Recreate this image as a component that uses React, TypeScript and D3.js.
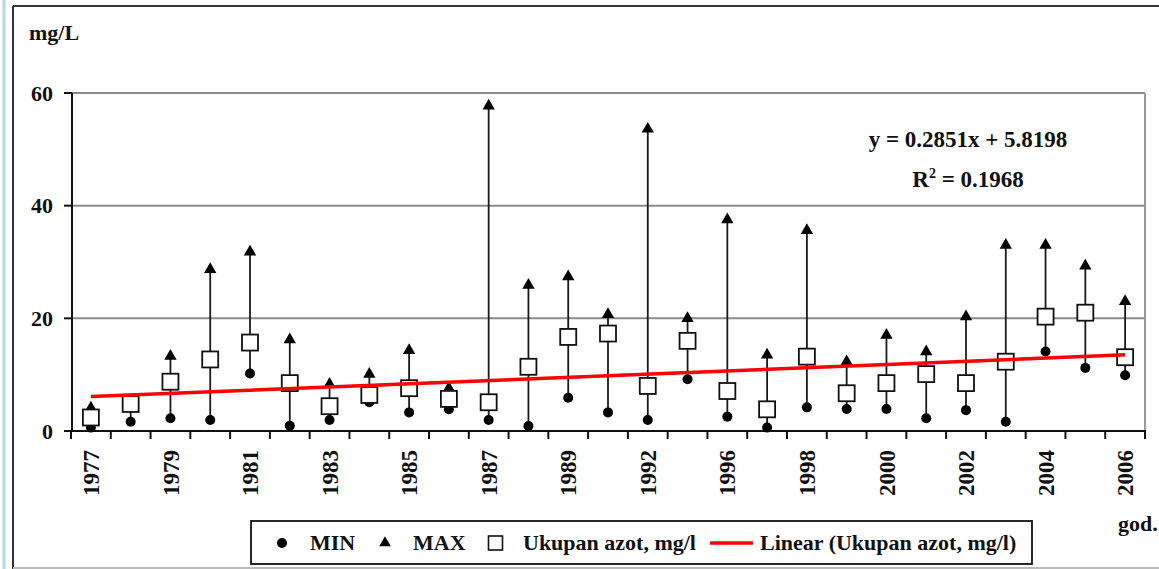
import React from 'react';
import * as d3 from 'd3';

// years on the category axis (only every other one is labelled)
const years = [
  '1977', '1978', '1979', '1980', '1981', '1982', '1983', '1984', '1985',
  '1986', '1987', '1988', '1989', '1990', '1992', '1994', '1996', '1997',
  '1998', '1999', '2000', '2001', '2002', '2003', '2004', '2005', '2006',
];

const minValues = [
  0.6, 1.65, 2.25, 1.95, 10.2, 0.95, 1.95, 5.1, 3.3,
  3.85, 1.95, 0.9, 5.9, 3.3, 1.95, 9.2, 2.55, 0.6,
  4.2, 3.9, 3.9, 2.25, 3.7, 1.65, 14.1, 11.2, 9.9,
];

const maxValues = [
  4.1, 5.0, 13.3, 28.7, 31.8, 16.2, 8.3, 10.1, 14.3,
  7.6, 57.7, 25.9, 27.4, 20.7, 53.6, 20.0, 37.5, 13.5,
  35.6, 12.3, 17.0, 14.1, 20.3, 33.0, 33.0, 29.3, 23.0,
];

const totalNitrogen = [
  2.4, 4.8, 8.75, 12.7, 15.7, 8.5, 4.4, 6.4, 7.6,
  5.7, 5.1, 11.4, 16.7, 17.3, 8.0, 16.0, 7.1, 3.85,
  13.2, 6.7, 8.5, 10.1, 8.5, 12.3, 20.3, 21.0, 13.1,
];

const yTicks = [0, 20, 40, 60];
const trendSlope = 0.2851;
const trendIntercept = 5.8198;

const FONT = '"Liberation Serif", "Times New Roman", serif';

const W = 1159;
const H = 569;

const App: React.FC = () => {
  const x = d3.scaleBand<string>().domain(years).range([71, 1145]);
  const y = d3.scaleLinear().domain([0, 60]).range([431, 93]);
  const cx = (yr: string) => (x(yr) || 0) + x.bandwidth() / 2;

  const tri = d3.symbol(d3.symbolTriangle, 66)() || '';
  const triSmall = d3.symbol(d3.symbolTriangle, 58)() || '';

  // Excel linear trend: x runs 1..n over the categories
  const trendPath = d3
    .line<number>()
    .x(i => cx(years[i]))
    .y(i => y(trendSlope * (i + 1) + trendIntercept))([0, years.length - 1]);

  const boundaries = d3.range(years.length + 1).map(i => 71 + i * x.bandwidth());

  return (
    <svg
      width={W}
      height={H}
      style={{ position: 'absolute', left: 0, top: 0, background: '#fff' }}
      fontFamily={FONT}
      fontWeight="bold"
    >
      {/* page edges */}
      <line x1={4} x2={4} y1={0} y2={H} stroke="#b7d7e3" strokeWidth={3} />
      <line x1={13} x2={13} y1={6} y2={H} stroke="#333" strokeWidth={2} />
      <line x1={13} x2={W} y1={6} y2={6} stroke="#333" strokeWidth={2} />
      <line x1={13} x2={W} y1={568} y2={568} stroke="#bbb" strokeWidth={2} />

      {/* gridlines */}
      {yTicks.filter(t => t > 0).map(t => (
        <line key={t} x1={72} x2={1145} y1={y(t)} y2={y(t)} stroke="#8a8a8a" strokeWidth={2} />
      ))}
      <line x1={1145} x2={1145} y1={y(60)} y2={y(0)} stroke="#9a9a9a" strokeWidth={2} />

      {/* y axis */}
      <line x1={72} x2={72} y1={y(60)} y2={y(0)} stroke="#111" strokeWidth={2} />
      {yTicks.map(t => (
        <g key={t}>
          <line x1={64} x2={72} y1={y(t)} y2={y(t)} stroke="#111" strokeWidth={2} />
          <text x={53} y={y(t)} dy="0.35em" textAnchor="end" fontSize={22} fill="#111">
            {t}
          </text>
        </g>
      ))}
      <text x={29} y={40} fontSize={22} fill="#111">mg/L</text>

      {/* x axis */}
      <line x1={64} x2={1146} y1={y(0)} y2={y(0)} stroke="#111" strokeWidth={2} />
      {boundaries.map((bx, i) => (
        <line key={i} x1={bx} x2={bx} y1={y(0)} y2={y(0) + 8} stroke="#111" strokeWidth={2} />
      ))}
      {years.map((yr, i) =>
        i % 2 === 0 ? (
          <text
            key={yr}
            transform={`translate(${cx(yr)},450) rotate(-90)`}
            dy="0.35em"
            textAnchor="end"
            fontSize={23}
            fill="#111"
          >
            {yr}
          </text>
        ) : null
      )}
      <text x={1118} y={531} fontSize={22} fill="#111">god.</text>

      {/* high-low lines */}
      {years.map((yr, i) => (
        <line
          key={yr}
          x1={cx(yr)}
          x2={cx(yr)}
          y1={y(minValues[i])}
          y2={y(maxValues[i])}
          stroke="#1a1a1a"
          strokeWidth={1.8}
        />
      ))}

      {/* MIN */}
      {years.map((yr, i) => (
        <circle key={yr} cx={cx(yr)} cy={y(minValues[i])} r={5} fill="#000" />
      ))}

      {/* MAX */}
      {years.map((yr, i) => (
        <path key={yr} d={tri} transform={`translate(${cx(yr)},${y(maxValues[i])})`} fill="#000" />
      ))}

      {/* Ukupan azot */}
      {years.map((yr, i) => (
        <rect
          key={yr}
          x={cx(yr) - 8}
          y={y(totalNitrogen[i]) - 8}
          width={16}
          height={16}
          fill="#fff"
          stroke="#111"
          strokeWidth={1.8}
        />
      ))}

      {/* linear trend */}
      <path d={trendPath || ''} fill="none" stroke="#ff0000" strokeWidth={3.5} />

      {/* equation */}
      <text x={968} y={147} textAnchor="middle" fontSize={23} fill="#111">
        y = 0.2851x + 5.8198
      </text>
      <text x={968} y={187} textAnchor="middle" fontSize={23} fill="#111">
        R<tspan fontSize={14} dy={-9}>2</tspan>
        <tspan dy={9}> = 0.1968</tspan>
      </text>

      {/* legend */}
      <rect x={251} y={521} width={781} height={43} fill="#fff" stroke="#111" strokeWidth={1.8} />
      <circle cx={282} cy={543} r={5} fill="#000" />
      <text x={310} y={550} fontSize={22} fill="#111">MIN</text>
      <path d={triSmall} transform="translate(385,543)" fill="#000" />
      <text x={413} y={550} fontSize={22} fill="#111">MAX</text>
      <rect x={488.5} y={536} width={14} height={14} fill="#fff" stroke="#111" strokeWidth={1.6} />
      <text x={523} y={550} fontSize={22} fill="#111">Ukupan azot, mg/l</text>
      <line x1={710} x2={753} y1={543} y2={543} stroke="#ff0000" strokeWidth={3.5} />
      <text x={760} y={550} fontSize={22} fill="#111">Linear (Ukupan azot, mg/l)</text>
    </svg>
  );
};

export default App;
